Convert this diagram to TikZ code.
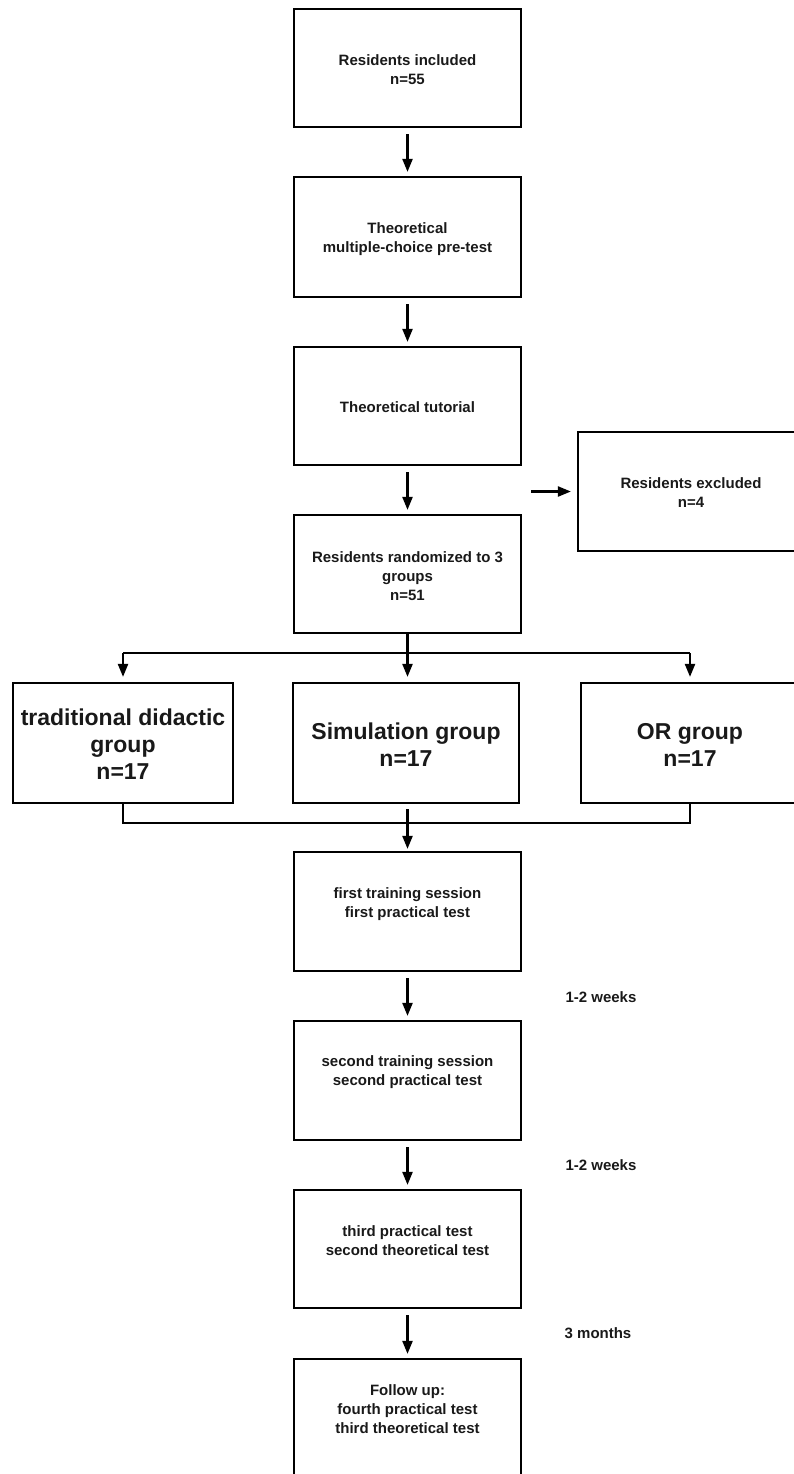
\documentclass[tikz,border=0pt]{standalone}
\usepackage{fontspec}
\setmainfont{Liberation Sans}
\usetikzlibrary{arrows.meta}
\begin{document}
\begin{tikzpicture}[x=1pt,y=-1pt,
  box/.style={draw, line width=2.2pt, inner sep=0pt},
  txt/.style={font=\bfseries\fontsize{15}{19}\selectfont, align=center, inner sep=0pt, text=black!90},
  big/.style={font=\bfseries\fontsize{23}{27}\selectfont, align=center, inner sep=0pt, text=black!90},
  arr/.style={line width=2.2pt, -{Triangle[length=13pt,width=10pt]}},
  ln/.style={line width=2.2pt}]
\useasboundingbox (0,0) rectangle (793,1474);

% boxes
\node[box, minimum width=227pt, minimum height=118pt] (b1) at (407.5,68) {};
\node[box, minimum width=227pt, minimum height=120pt] (b2) at (407.5,237) {};
\node[box, minimum width=227pt, minimum height=118pt] (b3) at (407.5,406) {};
\node[box, minimum width=227pt, minimum height=118pt] (b4) at (407.5,574) {};
\node[box, minimum width=226pt, minimum height=119pt] (ex) at (691,491.5) {};
\node[box, minimum width=220pt, minimum height=120pt] (g1) at (123,743) {};
\node[box, minimum width=226pt, minimum height=120pt] (g2) at (406,743) {};
\node[box, minimum width=218pt, minimum height=120pt] (g3) at (690,743) {};
\node[box, minimum width=227pt, minimum height=119pt] (f1) at (407.5,911.5) {};
\node[box, minimum width=227pt, minimum height=119pt] (f2) at (407.5,1080.5) {};
\node[box, minimum width=227pt, minimum height=118pt] (f3) at (407.5,1249) {};
\node[box, minimum width=227pt, minimum height=119pt] (f4) at (407.5,1418.5) {};

% texts
\node[txt] (t1) at (407.5,70) {Residents included\\n=55};
\node[txt] (t2) at (407.5,239.5) {Theoretical\\multiple-choice pre-test};
\node[txt] (t3) at (407.5,407) {Theoretical tutorial};
\node[txt] (t4) at (407.5,576) {Residents randomized to 3\\groups\\n=51};
\node[txt] (tex) at (691,492.5) {Residents excluded\\n=4};
\node[big] (tg1) at (123,744.5) {traditional didactic\\group\\n=17};
\node[big] (tg2) at (406,744.5) {Simulation group\\n=17};
\node[big] (tg3) at (690,745) {OR group\\n=17};
\node[txt] (tf1) at (407.5,904) {first training session\\first practical test};
\node[txt] (tf2) at (407.5,1072.5) {second training session\\second practical test};
\node[txt] (tf3) at (407.5,1240.5) {third practical test\\second theoretical test};
\node[txt] (tf4) at (407.5,1409) {Follow up:\\fourth practical test\\third theoretical test};
\node[txt] (w1) at (601,997) {1-2 weeks};
\node[txt] (w2) at (601,1165) {1-2 weeks};
\node[txt] (m3) at (598,1333) {3 months};

% connectors
\draw[arr] ([yshift=-6pt]b1.south) -- ([yshift=4pt]b2.north);
\draw[arr] ([yshift=-6pt]b2.south) -- ([yshift=4pt]b3.north);
\draw[arr] ([yshift=-6pt]b3.south) -- ([yshift=4pt]b4.north);
\draw[arr] ([xshift=9pt]b3.south east |- ex.west) -- ([xshift=-6pt]ex.west);

\coordinate (sp) at (407.5,653);
\draw[ln] (g1.north |- sp) -- (g3.north |- sp);
\draw[arr] (b4.south) -- ([yshift=5pt]b4.south |- g2.north);
\draw[arr] (g1.north |- sp) -- ([yshift=5pt]g1.north);
\draw[arr] (g3.north |- sp) -- ([yshift=5pt]g3.north);

\coordinate (jn) at (407.5,823);
\draw[ln] (g1.south) -- (g1.south |- jn) -- (g3.south |- jn) -- (g3.south);
\draw[arr] ([yshift=-5pt]f1.north |- g2.south) -- ([yshift=2pt]f1.north);

\draw[arr] ([yshift=-6pt]f1.south) -- ([yshift=4pt]f2.north);
\draw[arr] ([yshift=-6pt]f2.south) -- ([yshift=4pt]f3.north);
\draw[arr] ([yshift=-6pt]f3.south) -- ([yshift=4pt]f4.north);
\end{tikzpicture}
\end{document}
